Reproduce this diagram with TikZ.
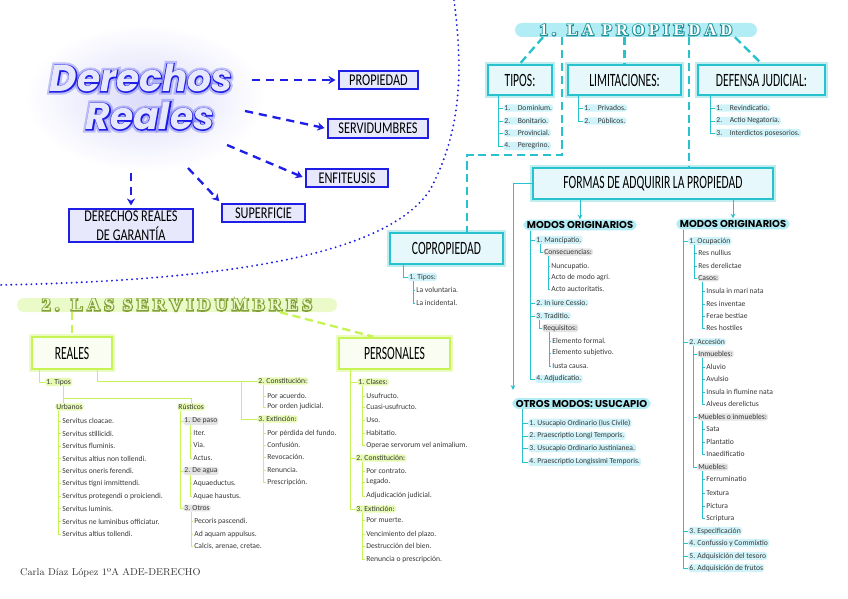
\documentclass[tikz,border=0pt]{standalone}
\usepackage{fontspec}
\usetikzlibrary{arrows.meta}

\newfontfamily\itemfont{Carlito}
\newfontfamily\capsfont[FakeStretch=0.62]{Carlito}
\newfontfamily\bluecaps[FakeStretch=0.75]{Carlito}
\newfontfamily\pillfont{Poppins}
\newfontfamily\titlefont{Poppins}
\newfontfamily\titleline[FakeBold=5]{Poppins}
\newfontfamily\titlehalo[FakeBold=16]{Poppins}
\newfontfamily\headfont[LetterSpace=25]{Liberation Serif}
\newfontfamily\headline[LetterSpace=25,FakeBold=12]{Liberation Serif}

\definecolor{dkblue}{RGB}{30,30,230}
\definecolor{lavender}{RGB}{232,232,253}
\definecolor{mycyan}{RGB}{40,194,206}
\definecolor{cyanfill}{RGB}{230,248,251}
\definecolor{cyanpill}{RGB}{178,236,244}
\definecolor{cyanhl}{RGB}{208,243,249}
\definecolor{mylime}{RGB}{198,244,84}
\definecolor{limefill}{RGB}{250,253,242}
\definecolor{limepill}{RGB}{234,250,200}
\definecolor{limehl}{RGB}{230,250,180}
\definecolor{grayhl}{RGB}{228,228,228}

\begin{document}
\begin{tikzpicture}[
        x=0.3mm, y=-0.3mm,
        titletxt/.style={inner sep=0pt},
        bluebox/.style={draw=dkblue, line width=2pt, fill=lavender, align=center, inner sep=1pt, font=\bluecaps\fontsize{14}{16}\selectfont},
        bluearrow/.style={dkblue, line width=2pt, dash pattern=on 7pt off 5pt, -{Stealth[length=6pt,width=7pt]}, shorten >=2pt},
        divider/.style={dkblue, line width=1.8pt, line cap=round, dash pattern=on 0pt off 4.3pt},
        cybox/.style={draw=mycyan, line width=2.4pt, fill=cyanfill, preaction={draw=mycyan!30, line width=4.6pt}, align=center, inner sep=1pt, font=\capsfont\fontsize{16}{16}\selectfont},
        limebox/.style={draw=mylime, line width=2.4pt, fill=limefill, preaction={draw=mylime!35, line width=4.6pt}, align=center, inner sep=1pt, font=\capsfont\fontsize{16}{16}\selectfont},
        headpill/.style={rounded corners=2.1mm, minimum height=4.2mm, inner sep=0pt},
        headtxt/.style={inner sep=0pt},
        modpill/.style={fill=cyanpill, rounded corners=1.9mm, inner xsep=3pt, inner ysep=1.6pt, font=\pillfont\bfseries\fontsize{8.5}{8.5}\selectfont},
        cydash/.style={mycyan, line width=2pt, dash pattern=on 7pt off 4pt},
        limedash/.style={mylime, line width=2pt, dash pattern=on 7pt off 4pt},
        cyline/.style={mycyan, line width=0.8pt},
        limeline/.style={mylime, line width=0.8pt},
        cyarrow/.style={cyline, -{Stealth[length=4pt,width=4pt]}},
        leaf/.style={anchor=west, inner xsep=1pt, inner ysep=0.8pt, text=black!78, font=\itemfont\fontsize{6.5}{7}\selectfont},
        cyitem/.style={leaf, fill=cyanhl, rounded corners=2.5pt},
        limeitem/.style={leaf, fill=limehl, rounded corners=2.5pt},
        grayitem/.style={leaf, fill=grayhl, rounded corners=2.5pt}
    ]
    \useasboundingbox (0,0) rectangle (848,599);

    % --- dotted divider ---
    \draw[divider] (454,0) .. controls (463,70) and (462,130) .. (430,190)
        .. controls (390,250) and (250,280) .. (0,285);

    % --- title ---
    \shade[inner color=dkblue!16, outer color=white] (145,98) ellipse [x radius=36mm, y radius=22mm];
    \node[titletxt, text=dkblue, text opacity=0.25, font=\titlehalo\bfseries\itshape\fontsize{32}{32}\selectfont] (halo1) at (141,78) {Derechos};
    \node[titletxt, text=dkblue, text opacity=0.25, font=\titlehalo\bfseries\itshape\fontsize{32}{32}\selectfont] (halo2) at (150,116) {Reales};
    \node[titletxt, text=dkblue, font=\titleline\bfseries\itshape\fontsize{32}{32}\selectfont] (edge1) at (141,78) {Derechos};
    \node[titletxt, text=dkblue, font=\titleline\bfseries\itshape\fontsize{32}{32}\selectfont] (edge2) at (150,116) {Reales};
    \node[titletxt, text=lavender, font=\titlefont\bfseries\itshape\fontsize{32}{32}\selectfont] (title1) at (141,78) {Derechos};
    \node[titletxt, text=lavender, font=\titlefont\bfseries\itshape\fontsize{32}{32}\selectfont] (title2) at (150,116) {Reales};

    % --- main types ---
    \node[bluebox, minimum width=23.7mm, minimum height=5.4mm] (propiedad) at (378.5,80) {PROPIEDAD};
    \node[bluebox, minimum width=30mm, minimum height=5.7mm] (servid) at (378,128.5) {SERVIDUMBRES};
    \node[bluebox, minimum width=24.6mm, minimum height=5.4mm] (enfiteusis) at (347,178) {ENFITEUSIS};
    \node[bluebox, minimum width=24.9mm, minimum height=5.4mm] (superficie) at (263.5,213) {SUPERFICIE};
    \node[bluebox, minimum width=37.2mm, minimum height=9.9mm] (garantia) at (131,225.5) {DERECHOS REALES\\DE GARANTÍA};

    \coordinate (ta) at (252,80);
    \coordinate (tb) at (245,111);
    \coordinate (tc) at (227,145);
    \coordinate (td) at (188,168);
    \coordinate (te) at (131,173);
    \draw[bluearrow] (ta) -- (propiedad.west);
    \draw[bluearrow] (tb) -- (servid.west);
    \draw[bluearrow] (tc) -- (enfiteusis.west);
    \draw[bluearrow] (td) -- (superficie.north west);
    \draw[bluearrow] (te) -- (garantia.north);

    % --- 1. La propiedad ---
    \node[headpill, fill=cyanpill, minimum width=72.6mm] (phead) at (636,30) {};
    \node[headtxt, text=mycyan!75!black, font=\headline\bfseries\fontsize{14}{14}\selectfont] (pho) at (phead.center) {1. LA PROPIEDAD};
    \node[headtxt, text=white, font=\headfont\bfseries\fontsize{14}{14}\selectfont] (pht) at (phead.center) {1. LA PROPIEDAD};

    \node[cybox, minimum width=19.2mm, minimum height=9mm] (tipos) at (520,80) {TIPOS:};
    \node[cybox, minimum width=33.9mm, minimum height=9mm] (limit) at (624.5,80) {LIMITACIONES:};
    \node[cybox, minimum width=38.1mm, minimum height=9mm] (defensa) at (761.5,80) {DEFENSA JUDICIAL:};
    \node[cybox, minimum width=33.9mm, minimum height=9.3mm] (copro) at (446.5,248.5) {COPROPIEDAD};
    \node[cybox, minimum width=72mm, minimum height=9.3mm] (formas) at (653,183.5) {FORMAS DE ADQUIRIR LA PROPIEDAD};

    \draw[cydash] (phead.south -| 543,0) -- (tipos.north);
    \draw[cydash] (phead.south -| limit.north) -- (limit.north);
    \draw[cydash] (phead.south -| 735,0) -- (defensa.north);
    \draw[cydash] (phead.south -| 562,0) -- (562,155) -| (copro.north -| 467,0);
    \draw[cydash] (phead.south -| 689,0) -- (formas.north -| 689,0);

    \foreach \txt/\y [count=\i] in {1.\quad Dominium./108, 2.\quad Bonitario./121, 3.\quad Provincial./133, 4.\quad Peregrino./146} {
        \node[cyitem] (tp\i) at (503,\y) {\txt};
        \draw[cyline] (tipos.south -| 498,0) |- (tp\i.west);
    }
    \foreach \txt/\y [count=\i] in {1.\quad Privados./108, 2.\quad Públicos./121} {
        \node[cyitem] (lm\i) at (583,\y) {\txt};
        \draw[cyline] (limit.south -| 578,0) |- (lm\i.west);
    }
    \foreach \txt/\y [count=\i] in {1.\quad Revindicatio./108, 2.\quad Actio Negatoria./121, 3.\quad Interdictos posesorios./133} {
        \node[cyitem] (dj\i) at (715,\y) {\txt};
        \draw[cyline] (defensa.south -| 710,0) |- (dj\i.west);
    }

    % copropiedad
    \node[cyitem] (ct) at (408,277) {1. Tipos:};
    \draw[cyline] (copro.south -| 403,0) |- (ct.west);
    \foreach \txt/\y [count=\i] in {La voluntaria./290, La incidental./303} {
        \node[leaf] (cv\i) at (415,\y) {\txt};
        \draw[cyline] (ct.south -| 413,0) |- (cv\i.west);
    }

    % --- modos de adquirir ---
    \node[modpill] (modos1) at (580,225) {MODOS ORIGINARIOS};
    \node[modpill] (modos2) at (733,224) {MODOS ORIGINARIOS};
    \node[modpill] (otros) at (581.5,403.5) {OTROS MODOS: USUCAPIO};
    \draw[cyarrow] (formas.south -| modos1.north) -- (modos1.north);
    \draw[cyarrow] (formas.south -| modos2.north) -- (modos2.north);
    \draw[cyarrow, shorten >=2.4mm] (formas.west) -| (otros.north -| 513,0);

    \node[cyitem] (m1) at (535,240) {1. Mancipatio.};
    \node[grayitem] (mc) at (543,252) {Consecuencias:};
    \node[cyitem] (m2) at (535,303) {2. In iure Cessio.};
    \node[cyitem] (m3) at (535,316) {3. Traditio.};
    \node[grayitem] (mr) at (542,328) {Requisitos:};
    \node[cyitem] (m4) at (535,379) {4. Adjudicatio.};
    \foreach \n in {m1,m2,m3,m4}
        \draw[cyline] (modos1.south -| 530,0) |- (\n.west);
    \draw[cyline] (m1.south -| 540,0) |- (mc.west);
    \draw[cyline] (m3.south -| 539,0) |- (mr.west);
    \foreach \txt/\y [count=\i] in {Nuncupatio./266, Acto de modo agri./278, Acto auctoritatis./289} {
        \node[leaf] (nc\i) at (550,\y) {\txt};
        \draw[cyline] (mc.south -| 548,0) |- (nc\i.west);
    }
    \foreach \txt/\y [count=\i] in {Elemento formal./341, Elemento subjetivo./353, Iusta causa./366} {
        \node[leaf] (rq\i) at (551,\y) {\txt};
        \draw[cyline] (mr.south -| 549,0) |- (rq\i.west);
    }

    \foreach \txt/\y [count=\i] in {1. Usucapio Ordinario (Ius Civile)/423, 2. Praescriptio Longi Temporis./436, 3. Usucapio Ordinario Justinianea./448, 4. Praescriptio Longissimi Temporis./462} {
        \node[cyitem] (us\i) at (528,\y) {\txt};
        \draw[cyline] (otros.south -| 522,0) |- (us\i.west);
    }

    \node[cyitem] (o1) at (688,241) {1. Ocupación};
    \node[cyitem] (o2) at (688,342) {2. Accesión};
    \node[cyitem] (o3) at (688,531) {3. Especificación};
    \node[cyitem] (o4) at (688,543) {4. Confussio y Commixtio};
    \node[cyitem] (o5) at (688,556) {5. Adquisición del tesoro};
    \node[cyitem] (o6) at (688,568) {6. Adquisición de frutos};
    \foreach \n in {o1,o2,o3,o4,o5,o6}
        \draw[cyline] (modos2.south -| 683,0) |- (\n.west);

    \node[leaf] (rn1) at (697,253) {Res nullius};
    \node[leaf] (rn2) at (697,266) {Res derelictae};
    \node[grayitem] (casos) at (697,278) {Casos:};
    \foreach \n in {rn1,rn2,casos}
        \draw[cyline] (o1.south -| 694,0) |- (\n.west);
    \foreach \txt/\y [count=\i] in {Insula in mari nata/291, Res inventae/304, Ferae bestiae/316, Res hostiles/328} {
        \node[leaf] (cs\i) at (705,\y) {\txt};
        \draw[cyline] (casos.south -| 702,0) |- (cs\i.west);
    }

    \node[grayitem] (inm) at (697,354) {Inmuebles:};
    \node[grayitem] (mim) at (697,417) {Muebles o inmuebles:};
    \node[grayitem] (mue) at (697,467) {Muebles:};
    \foreach \n in {inm,mim,mue}
        \draw[cyline] (o2.south -| 693,0) |- (\n.west);
    \foreach \txt/\y [count=\i] in {Aluvio/367, Avulsio/379, Insula in flumine nata/392, Alveus derelictus/404} {
        \node[leaf] (ia\i) at (705,\y) {\txt};
        \draw[cyline] (inm.south -| 702,0) |- (ia\i.west);
    }
    \foreach \txt/\y [count=\i] in {Sata/429, Plantatio/442, Inaedificatio/454} {
        \node[leaf] (mi\i) at (705,\y) {\txt};
        \draw[cyline] (mim.south -| 702,0) |- (mi\i.west);
    }
    \foreach \txt/\y [count=\i] in {Ferruminatio/479, Textura/493, Pictura/506, Scriptura/518} {
        \node[leaf] (mu\i) at (705,\y) {\txt};
        \draw[cyline] (mue.south -| 702,0) |- (mu\i.west);
    }

    % --- 2. Las servidumbres ---
    \node[headpill, fill=limepill, minimum width=96mm] (shead) at (177,305) {};
    \node[headtxt, text=mylime!65!black, font=\headline\bfseries\fontsize{15}{15}\selectfont] (sho) at (shead.center) {2. LAS SERVIDUMBRES};
    \node[headtxt, text=limepill, font=\headfont\bfseries\fontsize{15}{15}\selectfont] (sht) at (shead.center) {2. LAS SERVIDUMBRES};

    \node[limebox, minimum width=24mm, minimum height=9.6mm] (reales) at (72,353) {REALES};
    \node[limebox, minimum width=33.3mm, minimum height=9.3mm] (personales) at (394.5,353.5) {PERSONALES};
    \draw[limedash] (shead.south -| reales.north) -- (reales.north);
    \draw[limedash] (shead.south -| 280,0) -- (personales.north -| 373,0);

    % reales
    \node[limeitem] (rt) at (45,382) {1. Tipos};
    \node[limeitem] (rc) at (257,381) {2. Constitución:};
    \node[limeitem] (re) at (257,419) {3. Extinción:};
    \draw[limeline] (reales.south -| 39,0) |- (rt.west);
    \draw[limeline] (reales.south -| 97,0) |- (rc.west);
    \draw[limeline] (rc.west -| 241,0) |- (re.west);
    \foreach \txt/\y [count=\i] in {Por acuerdo./396, Por orden judicial./407} {
        \node[leaf] (ac\i) at (266,\y) {\txt};
        \draw[limeline] (rc.south -| 263,0) |- (ac\i.west);
    }
    \foreach \txt/\y [count=\i] in {Por pérdida del fundo./433, Confusión./445, Revocación./457, Renuncia./470, Prescripción./482} {
        \node[leaf] (ex\i) at (266,\y) {\txt};
        \draw[limeline] (re.south -| 263,0) |- (ex\i.west);
    }

    \node[limeitem] (urb) at (55,407) {Urbanos};
    \node[limeitem] (rus) at (177,407) {Rústicos};
    \coordinate (tj) at (63,398);
    \draw[limeline] (rt.south -| tj) -- (urb.north -| tj);
    \draw[limeline] (tj) -| (rus.north);
    \foreach \txt [count=\i] in {Servitus cloacae., Servitus stillicidi., Servitus fluminis., Servitus altius non tollendi., Servitus oneris ferendi., Servitus tigni immittendi., Servitus protegendi o proiciendi., Servitus luminis., Servitus ne luminibus officiatur., Servitus altius tollendi.} {
        \node[leaf] (ub\i) at (61,{421+12.56*(\i-1)}) {\txt};
        \draw[limeline] (urb.south -| 58,0) |- (ub\i.west);
    }

    \node[grayitem] (rp) at (183,421) {1. De paso};
    \node[grayitem] (ra) at (183,471) {2. De agua};
    \node[grayitem] (ro) at (183,508) {3. Otros};
    \foreach \n in {rp,ra,ro}
        \draw[limeline] (rus.south -| 180,0) |- (\n.west);
    \foreach \txt/\y [count=\i] in {Iter./433, Via./445, Actus./458} {
        \node[leaf] (ps\i) at (192,\y) {\txt};
        \draw[limeline] (rp.south -| 190,0) |- (ps\i.west);
    }
    \foreach \txt/\y [count=\i] in {Aquaeductus./483, Aquae haustus./496} {
        \node[leaf] (ag\i) at (192,\y) {\txt};
        \draw[limeline] (ra.south -| 190,0) |- (ag\i.west);
    }
    \foreach \txt/\y [count=\i] in {Pecoris pascendi./521, Ad aquam appulsus./534, {Calcis, arenae, cretae.}/546} {
        \node[leaf] (ot\i) at (193,\y) {\txt};
        \draw[limeline] (ro.south -| 191,0) |- (ot\i.west);
    }

    % personales
    \node[limeitem] (pc) at (357,382) {1. Clases:};
    \node[limeitem] (pk) at (355,458) {2. Constitución:};
    \node[limeitem] (px) at (355,509) {3. Extinción:};
    \foreach \n in {pc,pk,px}
        \draw[limeline] (personales.south -| 350,0) |- (\n.west);
    \foreach \txt/\y [count=\i] in {Usufructo./396, Cuasi-usufructo./407, Uso./420, Habitatio./433, Operae servorum vel animalium./445} {
        \node[leaf] (cl\i) at (365,\y) {\txt};
        \draw[limeline] (pc.south -| 362,0) |- (cl\i.west);
    }
    \foreach \txt/\y [count=\i] in {Por contrato./471, Legado./482, Adjudicación judicial./496} {
        \node[leaf] (co\i) at (365,\y) {\txt};
        \draw[limeline] (pk.south -| 362,0) |- (co\i.west);
    }
    \foreach \txt/\y [count=\i] in {Por muerte./520, Vencimiento del plazo./534, Destrucción del bien./546, Renuncia o prescripción./559} {
        \node[leaf] (pe\i) at (365,\y) {\txt};
        \draw[limeline] (px.south -| 362,0) |- (pe\i.west);
    }

    % --- footer ---
    \node[anchor=west, inner sep=0pt, font=\rmfamily\fontsize{8.5}{9}\selectfont, text=black!80] (foot) at (20,573) {Carla Díaz López 1ºA ADE-DERECHO};

\end{tikzpicture}
\end{document}
